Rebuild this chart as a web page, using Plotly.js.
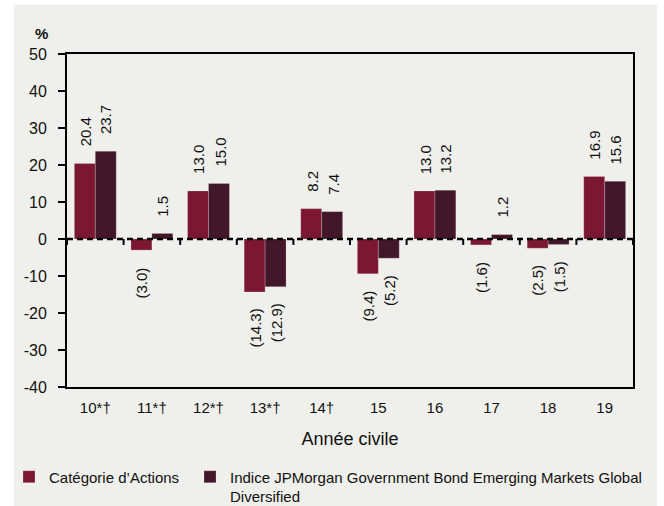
<!DOCTYPE html>
<html>
<head>
<meta charset="utf-8">
<script src="https://cdn.plot.ly/plotly-3.0.1.min.js"></script>
<style>
html,body{margin:0;padding:0;background:#ffffff;}
#chart{position:absolute;left:14px;top:5px;width:643px;height:501px;}
</style>
</head>
<body>
<div id="chart"></div>
<script>
var categories = ["10*†", "11*†", "12*†", "13*†", "14†", "15", "16", "17", "18", "19"];
var seriesNames = ["Catégorie d’Actions", "Indice JPMorgan Government Bond Emerging Markets Global<br>Diversified"];
var categorieActions = [20.4, -3.0, 13.0, -14.3, 8.2, -9.4, 13.0, -1.6, -2.5, 16.9];
var indiceJPMorgan = [23.7, 1.5, 15.0, -12.9, 7.4, -5.2, 13.2, 1.2, -1.5, 15.6];
var yTickVals = [-40, -30, -20, -10, 0, 10, 20, 30, 40, 50];
var yTickText = ["-40", "-30", "-20", "-10", "0", "10", "20", "30", "40", "50"];

var FONT = "'Liberation Sans', Arial, sans-serif";
var colors = ["#7c1733", "#43172a"];
var series = [categorieActions, indiceJPMorgan];
var legendIds = ["legend", "legend2"];

var traces = series.map(function (vals, s) {
  return {
    type: "bar",
    name: seriesNames[s],
    x: categories,
    y: vals,
    legend: legendIds[s],
    marker: {color: colors[s], line: {width: 0.6, color: "rgba(255,255,255,0.35)"}},
    hoverinfo: "none"
  };
});

function fmt(v) {
  return v >= 0 ? v.toFixed(1) : "(" + Math.abs(v).toFixed(1) + ")";
}

var annotations = [];
series.forEach(function (vals, s) {
  vals.forEach(function (v, i) {
    annotations.push({
      x: i, y: v, xref: "x", yref: "y",
      text: fmt(v), showarrow: false, textangle: -90,
      xshift: s === 0 ? -10 : 11,
      yshift: v >= 0 ? 15 : -15,
      yanchor: v >= 0 ? "bottom" : "top",
      xanchor: "center",
      font: {family: FONT, size: 15, color: "#111"}
    });
  });
});
annotations.push({
  xref: "paper", yref: "paper", x: 0, y: 1, xshift: -26, yshift: 21,
  xanchor: "center", yanchor: "middle", showarrow: false, text: "<b>%</b>",
  font: {family: FONT, size: 15, color: "#111"}
});

var shapes = [{
  type: "line", xref: "paper", yref: "y", x0: 0, x1: 1, y0: 0, y1: 0,
  line: {color: "#000", width: 2.5, dash: "6px,4px"}, layer: "above"
}];
for (var b = 0; b <= categories.length; b++) {
  shapes.push({
    type: "line", xref: "x", yref: "y", x0: b - 0.5, x1: b - 0.5, y0: 0, y1: -1.6,
    line: {color: "#000", width: 2}, layer: "above"
  });
}

var legendBase = {
  orientation: "h", xref: "container", yref: "container",
  xanchor: "left", yanchor: "top", valign: "top", indentation: -5,
  font: {family: FONT, size: 15, color: "#111"},
  bgcolor: "rgba(0,0,0,0)", itemclick: false
};

var layout = {
  width: 643, height: 501,
  margin: {l: 53, r: 24, t: 49, b: 119},
  paper_bgcolor: "#efefeb",
  plot_bgcolor: "#efefeb",
  barmode: "group",
  bargap: 0.26,
  bargroupgap: 0,
  font: {family: FONT, size: 15, color: "#111"},
  showlegend: true,
  legend: Object.assign({}, legendBase, {x: 0.0, y: 0.091}),
  legend2: Object.assign({}, legendBase, {x: 0.2815, y: 0.091}),
  xaxis: {
    type: "category",
    range: [-0.5, categories.length - 0.5],
    showline: true, linecolor: "#000", linewidth: 2, mirror: true,
    ticks: "", showgrid: false, zeroline: false, ticklabelstandoff: 6,
    tickfont: {family: FONT, size: 15, color: "#111"},
    title: {text: "Année civile", font: {family: FONT, size: 18, color: "#111"}, standoff: 17}
  },
  yaxis: {
    range: [-40, 50],
    tickmode: "array", tickvals: yTickVals, ticktext: yTickText,
    ticks: "outside", ticklen: 7, tickwidth: 2, tickcolor: "#000",
    showline: true, linecolor: "#000", linewidth: 2, mirror: true,
    showgrid: false, zeroline: false, ticklabelstandoff: 8,
    tickfont: {family: FONT, size: 16, color: "#111"}
  },
  annotations: annotations,
  shapes: shapes
};

Plotly.newPlot("chart", traces, layout, {displayModeBar: false, staticPlot: true});
</script>
</body>
</html>
